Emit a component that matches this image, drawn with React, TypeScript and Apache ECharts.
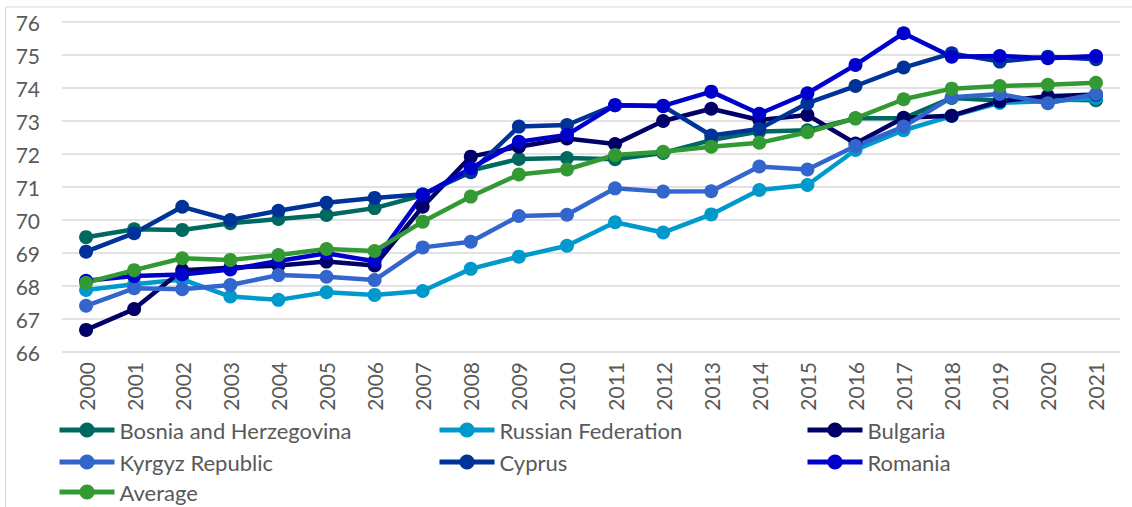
import React, { useEffect, useRef } from "react";
import * as echarts from "echarts";

const years = ["2000","2001","2002","2003","2004","2005","2006","2007","2008","2009","2010","2011","2012","2013","2014","2015","2016","2017","2018","2019","2020","2021"];

const bosnia = [69.48,69.72,69.7,69.9,70.03,70.15,70.36,70.75,71.5,71.85,71.88,71.84,72.03,72.42,72.68,72.72,73.08,73.08,73.7,73.62,73.65,73.63];
const russia = [67.88,68.05,68.2,67.68,67.58,67.81,67.73,67.85,68.52,68.89,69.22,69.93,69.62,70.17,70.91,71.06,72.12,72.72,73.15,73.55,73.6,73.7];
const bulgaria = [66.67,67.3,68.48,68.55,68.62,68.74,68.62,70.4,71.92,72.22,72.47,72.3,73.0,73.37,73.03,73.18,72.32,73.1,73.16,73.6,73.75,73.8];
const kyrgyz = [67.4,67.93,67.9,68.03,68.33,68.28,68.18,69.17,69.34,70.12,70.16,70.96,70.86,70.87,71.62,71.53,72.24,72.83,73.72,73.82,73.54,73.82];
const cyprus = [69.04,69.6,70.4,70.0,70.28,70.52,70.67,70.78,71.45,72.83,72.88,73.48,73.45,72.56,72.76,73.54,74.06,74.62,75.05,74.8,74.95,74.87];
const romania = [68.16,68.3,68.35,68.5,68.76,68.99,68.75,70.75,71.57,72.37,72.58,73.48,73.46,73.89,73.22,73.84,74.7,75.66,74.95,74.97,74.9,74.97];
const average = [68.1,68.48,68.84,68.79,68.94,69.12,69.06,69.95,70.71,71.38,71.53,71.97,72.07,72.22,72.34,72.66,73.08,73.66,73.98,74.06,74.1,74.16];

const yTicks = { min: 66, max: 76, interval: 1 };

const seriesDefs = [
  { name: "Bosnia and Herzegovina", data: bosnia, color: "#00695F" },
  { name: "Russian Federation", data: russia, color: "#0099CC" },
  { name: "Bulgaria", data: bulgaria, color: "#000066" },
  { name: "Kyrgyz Republic", data: kyrgyz, color: "#3366CC" },
  { name: "Cyprus", data: cyprus, color: "#003399" },
  { name: "Romania", data: romania, color: "#0000CC" },
  { name: "Average", data: average, color: "#339933" },
];

// legend grid: row-major, 3 columns
const legendCols = [57, 437, 805];
const legendRowCenters = [430, 462, 492];

const FONT = "Lato";
const TXT = "#595959";

export default function App() {
  const ref = useRef<HTMLDivElement>(null);
  useEffect(() => {
    document.body.style.margin = "0";
    const chart = echarts.init(ref.current!, null, { renderer: "svg" });
    const legends = seriesDefs.map((s, i) => ({
      show: true,
      orient: "horizontal" as const,
      left: legendCols[i % 3],
      top: legendRowCenters[Math.floor(i / 3)] - 11,
      padding: 0,
      itemWidth: 55,
      itemHeight: 19,
      data: [s.name],
      selectedMode: false,
      lineStyle: { width: 5 },
      textStyle: { fontFamily: FONT, fontSize: 22, color: TXT, lineHeight: 22 },
    }));
    chart.setOption({
      animation: false,
      backgroundColor: "#ffffff",
      textStyle: { fontFamily: FONT },
      grid: { left: 62, right: 12, top: 22, bottom: 155, containLabel: false },
      xAxis: {
        type: "category",
        data: years,
        boundaryGap: true,
        axisLine: { show: false },
        axisTick: { show: false },
        axisLabel: { rotate: 90, fontSize: 21, color: TXT, fontFamily: FONT, margin: 10, interval: 0 },
      },
      yAxis: {
        type: "value",
        min: yTicks.min,
        max: yTicks.max,
        interval: yTicks.interval,
        axisLine: { show: false },
        axisTick: { show: false },
        axisLabel: { fontSize: 21, color: TXT, fontFamily: FONT, margin: 22 },
        splitLine: { lineStyle: { color: "#D9D9D9", width: 1.5 } },
      },
      legend: legends,
      graphic: [
        {
          type: "rect",
          shape: { x: 5.5, y: 7, width: 1200, height: 600 },
          style: { fill: "none", stroke: "#D9D9D9", lineWidth: 1 },
          silent: true,
        },
      ],
      series: seriesDefs.map((s) => ({
        name: s.name,
        type: "line",
        data: s.data,
        symbol: "circle",
        symbolSize: 14,
        itemStyle: { color: s.color },
        lineStyle: { color: s.color, width: 4.5, join: "round" },
      })),
    });
    return () => chart.dispose();
  }, []);
  return <div ref={ref} style={{ width: 1132, height: 507 }} />;
}
